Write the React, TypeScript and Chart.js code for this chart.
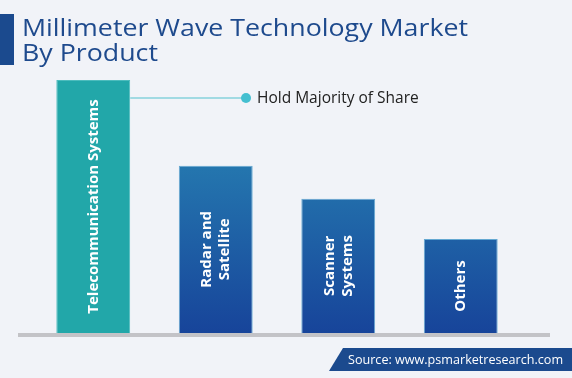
import React, { useEffect, useRef } from "react";
import { Chart, registerables } from "chart.js";

Chart.register(...registerables);

const titleLines = ["Millimeter Wave Technology Market", "By Product"];
const categories = ["Telecommunication Systems", "Radar and Satellite", "Scanner Systems", "Others"];
const barLabels = [["Telecommunication Systems"], ["Radar and", "Satellite"], ["Scanner", "Systems"], ["Others"]];
const shares = [39.0, 25.8, 20.7, 14.5];
const calloutText = "Hold Majority of Share";
const sourceText = "Source: www.psmarketresearch.com";

const FONT = "'Open Sans', 'DejaVu Sans', sans-serif";

export default function App() {
  const ref = useRef<HTMLCanvasElement | null>(null);
  useEffect(() => {
    const canvas = ref.current!;
    const deco = {
      id: "deco",
      beforeDraw(chart: any) {
        const c = chart.ctx;
        c.save();
        c.fillStyle = "#f1f3f8";
        c.fillRect(0, 0, chart.width, chart.height);
        // title bar
        c.fillStyle = "#1b4a8e";
        c.fillRect(0, 14, 14, 51);
        c.fillStyle = "#1e4a8d";
        c.font = `500 24px ${FONT}`;
        c.textBaseline = "alphabetic";
        c.textAlign = "left";
        const w = c.measureText(titleLines[0]).width;
        const sx = 446 / w;
        c.save();
        c.translate(22, 0);
        c.scale(sx, 1);
        c.fillText(titleLines[0], 0, 36);
        c.fillText(titleLines[1], 0, 61);
        c.restore();
        // baseline
        const area = chart.chartArea;
        c.fillStyle = "#c3c3c7";
        c.fillRect(18, area.bottom, 532, 4);
        c.restore();
      },
      afterDatasetsDraw(chart: any) {
        const c = chart.ctx;
        const meta = chart.getDatasetMeta(0);
        c.save();
        meta.data.forEach((bar: any, i: number) => {
          const lines = barLabels[i];
          const cx = bar.x;
          const cy = (bar.y + bar.base) / 2;
          c.save();
          c.translate(cx, cy);
          c.rotate(-Math.PI / 2);
          c.fillStyle = "#ffffff";
          c.font = `bold 15px ${FONT}`;
          c.textAlign = "center";
          c.textBaseline = "middle";
          const lh = 18;
          lines.forEach((t, k) => {
            c.fillText(t, 0, (k - (lines.length - 1) / 2) * lh);
          });
          c.restore();
        });
        // callout
        const b0 = meta.data[0];
        const right = b0.x + b0.width / 2;
        const ly = 98;
        c.strokeStyle = "#86d2dc";
        c.lineWidth = 1.5;
        c.beginPath();
        c.moveTo(right, ly);
        c.lineTo(246, ly);
        c.stroke();
        c.fillStyle = "#44bfd0";
        c.beginPath();
        c.arc(246, ly, 5, 0, Math.PI * 2);
        c.fill();
        c.fillStyle = "#222222";
        c.font = `15.5px ${FONT}`;
        c.textAlign = "left";
        c.textBaseline = "middle";
        c.fillText(calloutText, 257, ly + 1);
        // source banner
        c.fillStyle = "#1b4a8e";
        c.beginPath();
        c.moveTo(343, 348);
        c.lineTo(572, 348);
        c.lineTo(572, 371);
        c.lineTo(329, 371);
        c.closePath();
        c.fill();
        c.fillStyle = "#ffffff";
        c.font = `12.6px ${FONT}`;
        c.textBaseline = "middle";
        c.fillText(sourceText, 348, 360);
        c.restore();
      },
    };
    const chart = new Chart(canvas, {
      type: "bar",
      data: {
        labels: categories,
        datasets: [
          {
            data: shares,
            backgroundColor: (ctx: any) => {
              if (ctx.dataIndex === 0) return "#22a7a9";
              const area = ctx.chart.chartArea;
              if (!area) return "#2a7fb5";
              const el = ctx.element;
              const top = el && el.y != null ? el.y : area.top;
              const g = ctx.chart.ctx.createLinearGradient(0, top, 0, area.bottom);
              g.addColorStop(0, "#2b90b9");
              g.addColorStop(1, "#17449a");
              return g;
            },
            borderColor: (ctx: any) => (ctx.dataIndex === 0 ? "#4cbcbd" : "#64a8d2"),
            borderWidth: { top: 1, left: 1, right: 1, bottom: 0 },
            borderSkipped: "bottom",
            categoryPercentage: 1,
            barPercentage: 0.603,
          },
        ],
      },
      options: {
        responsive: false,
        animation: false,
        devicePixelRatio: 1,
        layout: { padding: { left: 32, right: 50, top: 80, bottom: 45 } },
        plugins: { legend: { display: false }, tooltip: { enabled: false } },
        scales: {
          x: { display: false },
          y: { display: false, min: 0, max: shares[0] },
        },
      },
      plugins: [deco],
    });
    return () => chart.destroy();
  }, []);
  return (
    <div style={{ position: "fixed", left: 0, top: 0, width: 572, height: 378 }}>
      <canvas ref={ref} width={572} height={378} style={{ display: "block" }} />
    </div>
  );
}
